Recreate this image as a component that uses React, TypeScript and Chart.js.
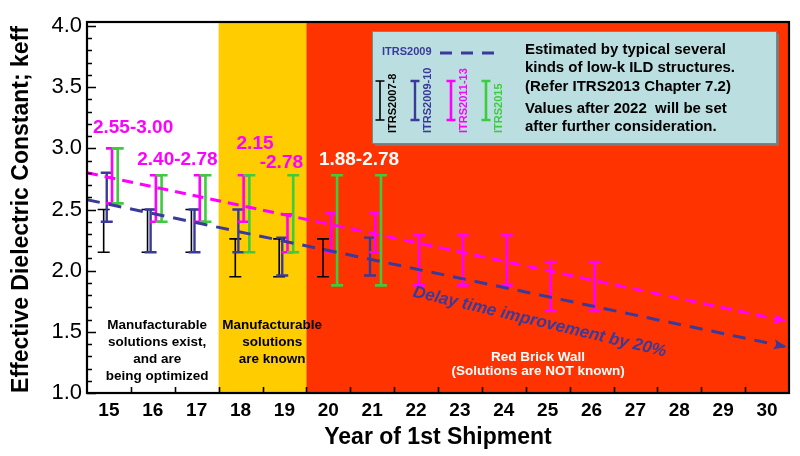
import { useEffect, useRef } from 'react';
import { Chart, registerables } from 'chart.js';

Chart.register(...registerables);

const FONT = "'Liberation Sans', Arial, sans-serif";

// ---------------- data ----------------
const years = [15, 16, 17, 18, 19, 20, 21, 22, 23, 24, 25, 26, 27, 28, 29, 30];
const yMin = 1.0;
const yMax = 4.0;

// ITRS2007-8 (black)
const itrs2007Low = [2.15, 2.15, 2.15, 1.95, 1.95, 1.95, null, null, null, null, null, null, null, null, null, null];
const itrs2007High = [2.5, 2.5, 2.5, 2.26, 2.26, 2.26, null, null, null, null, null, null, null, null, null, null];
// ITRS2009-10 (navy)
const itrs2009Low = [2.4, 2.15, 2.15, 2.15, 1.96, null, 1.96, null, null, null, null, null, null, null, null, null];
const itrs2009High = [2.8, 2.5, 2.5, 2.5, 2.27, null, 2.27, null, null, null, null, null, null, null, null, null];
// ITRS2011-13 (magenta)
const itrs2011Low = [2.55, 2.4, 2.4, 2.4, 2.15, 2.15, 2.15, 1.88, 1.88, 1.88, 1.67, 1.67, null, null, null, null];
const itrs2011High = [3.0, 2.78, 2.78, 2.78, 2.46, 2.47, 2.47, 2.29, 2.29, 2.29, 2.07, 2.07, null, null, null, null];
// ITRS2015 (green)
const itrs2015Low = [2.55, 2.4, 2.4, 2.15, 2.15, 1.88, 1.88, null, null, null, null, null, null, null, null, null];
const itrs2015High = [3.0, 2.78, 2.78, 2.78, 2.78, 2.78, 2.78, null, null, null, null, null, null, null, null, null];

// trend lines (start / end)
const trendYears = [14.5, 30.4];
const trend2011 = [2.8, 1.59];
const trend2009 = [2.58, 1.38];

// background regions (year boundaries)
const regionEdges = [14.5, 17.5, 19.5, 30.5];

// range labels
const rangeLabels = ['2.55-3.00', '2.40-2.78', '2.15', '-2.78', '1.88-2.78'];

// ---------------- styles ----------------
const C_BLACK = '#000000';
const C_NAVY = '#3A3A9A';
const C_MAGENTA = '#FF00FF';
const C_GREEN = '#3DCC3D';
const C_WHITE_BG = '#FFFFFF';
const C_YELLOW = '#FFCC00';
const C_RED = '#FF3300';

const errorSeries = [
  { low: itrs2007Low, high: itrs2007High, color: C_BLACK, width: 1.6, offset: -0.12 },
  { low: itrs2009Low, high: itrs2009High, color: C_NAVY, width: 2.4, offset: -0.05 },
  { low: itrs2011Low, high: itrs2011High, color: C_MAGENTA, width: 2.6, offset: 0.07 },
  { low: itrs2015Low, high: itrs2015High, color: C_GREEN, width: 2.6, offset: 0.2 },
];

function drawIBar(ctx: CanvasRenderingContext2D, x: number, y1: number, y2: number, half: number, color: string, w: number) {
  ctx.save();
  ctx.strokeStyle = color;
  ctx.lineWidth = w;
  ctx.lineCap = 'butt';
  ctx.beginPath();
  ctx.moveTo(x, y1);
  ctx.lineTo(x, y2);
  ctx.moveTo(x - half, y1);
  ctx.lineTo(x + half, y1);
  ctx.moveTo(x - half, y2);
  ctx.lineTo(x + half, y2);
  ctx.stroke();
  ctx.restore();
}

const backdropPlugin = {
  id: 'backdrop',
  beforeDatasetsDraw(chart: any) {
    const { ctx, chartArea } = chart;
    const x = chart.scales.x;
    const y = chart.scales.y;
    const top = chartArea.top - 4;
    const bottom = chartArea.bottom;
    const colors = [C_WHITE_BG, C_YELLOW, C_RED];
    ctx.save();
    for (let i = 0; i < colors.length; i++) {
      const a = x.getPixelForValue(regionEdges[i]);
      const b = x.getPixelForValue(regionEdges[i + 1]);
      ctx.fillStyle = colors[i];
      ctx.fillRect(a, top, b - a, bottom - top);
    }
    // region texts
    ctx.textAlign = 'center';
    ctx.textBaseline = 'middle';
    ctx.font = `bold 13.5px ${FONT}`;
    ctx.fillStyle = '#000';
    const lh = 17;
    const y0 = y.getPixelForValue(1.556);
    const leftLines = ['Manufacturable', 'solutions exist,', 'and are', 'being optimized'];
    const lx = x.getPixelForValue(16.1);
    leftLines.forEach((t, i) => ctx.fillText(t, lx, y0 + i * lh));
    const midLines = ['Manufacturable', 'solutions', 'are known'];
    const mx = x.getPixelForValue(18.72);
    midLines.forEach((t, i) => ctx.fillText(t, mx, y0 + i * lh));
    ctx.fillStyle = '#FFFFFF';
    ctx.font = `bold 13.5px ${FONT}`;
    const rx = x.getPixelForValue(24.78);
    const ry = y.getPixelForValue(1.294);
    ctx.fillText('Red Brick Wall', rx, ry);
    ctx.fillText('(Solutions are NOT known)', rx, ry + 14);
    ctx.restore();

    // error bars
    errorSeries.forEach((s) => {
      years.forEach((yr, i) => {
        const lo = s.low[i];
        const hi = s.high[i];
        if (lo == null || hi == null) return;
        const px = x.getPixelForValue(yr + s.offset);
        drawIBar(ctx, px, y.getPixelForValue(hi), y.getPixelForValue(lo), 6, s.color, s.width);
      });
    });
  },
};

const overlayPlugin = {
  id: 'overlay',
  afterDatasetsDraw(chart: any) {
    const { ctx, chartArea } = chart;
    const x = chart.scales.x;
    const y = chart.scales.y;

    // arrowheads at end of trend lines
    chart.data.datasets.forEach((ds: any, i: number) => {
      const pts = chart.getDatasetMeta(i).data;
      if (pts.length < 2) return;
      const p1 = pts[pts.length - 2];
      const p2 = pts[pts.length - 1];
      const ang = Math.atan2(p2.y - p1.y, p2.x - p1.x);
      ctx.save();
      ctx.translate(p2.x, p2.y);
      ctx.rotate(ang);
      ctx.fillStyle = ds.borderColor;
      ctx.beginPath();
      ctx.moveTo(2, 0);
      ctx.lineTo(-11, -5);
      ctx.lineTo(-8, 0);
      ctx.lineTo(-11, 5);
      ctx.closePath();
      ctx.fill();
      ctx.restore();
    });

    // range labels
    ctx.save();
    ctx.textAlign = 'center';
    ctx.textBaseline = 'middle';
    ctx.font = `bold 19px ${FONT}`;
    const labelPos = [
      [15.55, 3.17, C_MAGENTA],
      [16.56, 2.905, C_MAGENTA],
      [18.33, 3.04, C_MAGENTA],
      [18.93, 2.88, C_MAGENTA],
      [20.7, 2.905, '#FFFFFF'],
    ];
    rangeLabels.forEach((t, i) => {
      const [lx, ly, c] = labelPos[i] as [number, number, string];
      ctx.fillStyle = c;
      ctx.fillText(t, x.getPixelForValue(lx), y.getPixelForValue(ly));
    });

    // rotated delay-time text
    ctx.save();
    ctx.translate(x.getPixelForValue(24.82), y.getPixelForValue(1.58));
    ctx.rotate((13.4 * Math.PI) / 180);
    ctx.fillStyle = C_NAVY;
    ctx.font = `italic bold 17px ${FONT}`;
    ctx.fillText('Delay time improvement by 20%', 0, 0);
    ctx.restore();
    ctx.restore();

    // frame
    const L = chartArea.left;
    const R = chartArea.right;
    const T = chartArea.top - 4;
    const B = chartArea.bottom;
    ctx.save();
    ctx.strokeStyle = '#000';
    ctx.lineWidth = 2.2;
    ctx.strokeRect(L, T, R - L, B - T);
    // y ticks (inward)
    ctx.lineWidth = 1.6;
    ctx.beginPath();
    for (let i = 0; i <= 30; i++) {
      const v = yMin + i / 10;
      const py = Math.round(y.getPixelForValue(v)) + 0.5;
      const len = i % 5 === 0 ? 9 : 5;
      ctx.moveTo(L, py);
      ctx.lineTo(L + len, py);
    }
    // x ticks at category boundaries (inward)
    for (let i = 0; i < years.length - 1; i++) {
      const px = Math.round(x.getPixelForValue(years[i] + 0.5)) + 0.5;
      ctx.moveTo(px, B);
      ctx.lineTo(px, B - 6);
    }
    ctx.stroke();
    ctx.restore();

    // legend box
    ctx.save();
    const bx = 372, by = 31, bw = 404, bh = 112;
    ctx.fillStyle = '#7A7A7A';
    ctx.fillRect(bx + 3, by + 3, bw, bh);
    ctx.fillStyle = '#BBDFE0';
    ctx.fillRect(bx, by, bw, bh);
    ctx.strokeStyle = '#6E8C8C';
    ctx.lineWidth = 1;
    ctx.strokeRect(bx + 0.5, by + 0.5, bw, bh);

    ctx.font = `bold 11px ${FONT}`;
    ctx.fillStyle = C_NAVY;
    ctx.textAlign = 'left';
    ctx.textBaseline = 'middle';
    ctx.fillText('ITRS2009', 382, 52);
    ctx.strokeStyle = C_NAVY;
    ctx.lineWidth = 3;
    ctx.setLineDash([12, 9]);
    ctx.beginPath();
    ctx.moveTo(440, 53);
    ctx.lineTo(494, 53);
    ctx.stroke();
    ctx.setLineDash([]);

    const legItems = [
      ['ITRS2007-8', C_BLACK, 380, 1.6],
      ['ITRS2009-10', C_NAVY, 415, 2.4],
      ['ITRS2011-13', C_MAGENTA, 451, 2.6],
      ['ITRS2015', C_GREEN, 486, 2.6],
    ];
    legItems.forEach(([t, c, lx, w]) => {
      drawIBar(ctx, lx as number, 81, 120, 4.5, c as string, w as number);
      ctx.save();
      ctx.translate((lx as number) + 13, 133);
      ctx.rotate(-Math.PI / 2);
      ctx.fillStyle = c as string;
      ctx.font = `bold 11px ${FONT}`;
      ctx.textAlign = 'left';
      ctx.textBaseline = 'middle';
      ctx.fillText(t as string, 0, 0);
      ctx.restore();
    });

    ctx.fillStyle = '#000';
    ctx.font = `bold 15px ${FONT}`;
    const noteLines = [
      ['Estimated by typical several', 50],
      ['kinds of low-k ILD structures.', 68],
      ['(Refer ITRS2013 Chapter 7.2)', 87],
      ['Values after 2022  will be set', 109],
      ['after further consideration.', 127],
    ];
    noteLines.forEach(([t, ly]) => ctx.fillText(t as string, 525, ly as number));
    ctx.restore();
  },
};

export default function App() {
  const ref = useRef<HTMLCanvasElement>(null);
  useEffect(() => {
    document.body.style.margin = '0';
    const canvas = ref.current;
    if (!canvas) return;
    const chart = new Chart(canvas, {
      type: 'line',
      data: {
        datasets: [
          {
            label: 'ITRS2011-13 trend',
            data: trendYears.map((v, i) => ({ x: v, y: trend2011[i] })),
            borderColor: C_MAGENTA,
            borderWidth: 3,
            borderDash: [11, 7],
            pointRadius: 0,
            fill: false,
          },
          {
            label: 'ITRS2009 trend',
            data: trendYears.map((v, i) => ({ x: v, y: trend2009[i] })),
            borderColor: C_NAVY,
            borderWidth: 3,
            borderDash: [13, 9],
            pointRadius: 0,
            fill: false,
          },
        ],
      },
      options: {
        animation: false,
        responsive: false,
        maintainAspectRatio: false,
        layout: { padding: { top: 26, right: 11, left: 0, bottom: 0 } },
        plugins: {
          legend: { display: false },
          tooltip: { enabled: false },
          title: { display: false },
        },
        scales: {
          x: {
            type: 'linear',
            min: 14.5,
            max: 30.5,
            afterBuildTicks: (scale: any) => {
              scale.ticks = years.map((v) => ({ value: v }));
            },
            afterFit: (scale: any) => {
              scale.height = 63;
            },
            grid: { display: false, drawTicks: false },
            border: { display: false },
            ticks: {
              autoSkip: false,
              maxRotation: 0,
              padding: 6,
              color: '#000',
              font: { family: FONT, size: 19, weight: 'bold' },
              callback: (v: any) => String(v),
            },
            title: {
              display: true,
              text: 'Year of 1st Shipment',
              color: '#000',
              font: { family: FONT, size: 23, weight: 'bold' },
              padding: { top: 0, bottom: 5 },
            },
          },
          y: {
            type: 'linear',
            min: yMin,
            max: yMax,
            afterFit: (scale: any) => {
              scale.width = 87;
            },
            grid: { display: false, drawTicks: false },
            border: { display: false },
            ticks: {
              stepSize: 0.5,
              padding: 5,
              color: '#000',
              font: { family: FONT, size: 22 },
              callback: (v: any) => Number(v).toFixed(1),
            },
            title: {
              display: true,
              text: 'Effective Dielectric Constant; keff',
              color: '#000',
              font: { family: FONT, size: 23, weight: 'bold' },
              padding: { top: 8, bottom: 0 },
            },
          },
        },
      },
      plugins: [backdropPlugin, overlayPlugin],
    } as any);
    return () => chart.destroy();
  }, []);
  return (
    <div style={{ width: 800, height: 456 }}>
      <canvas ref={ref} width={800} height={456} style={{ display: 'block' }} />
    </div>
  );
}
